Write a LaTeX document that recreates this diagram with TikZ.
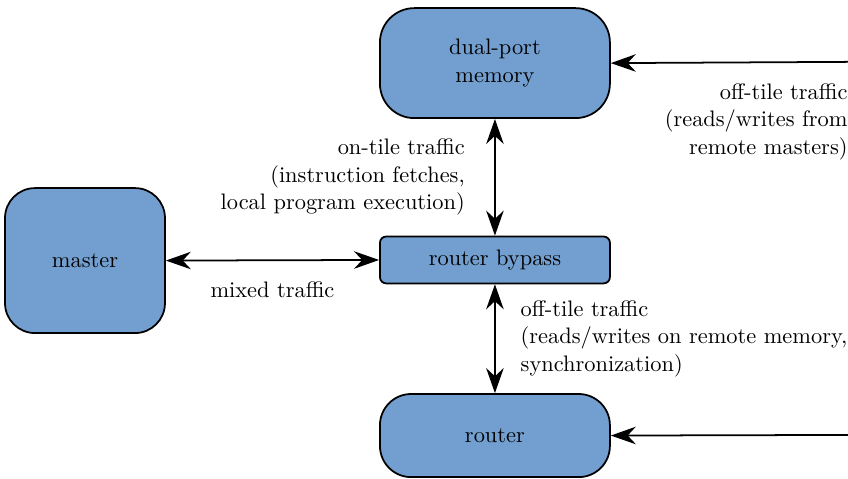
\documentclass[tikz,border=0pt]{standalone}
\usetikzlibrary{arrows.meta}
\definecolor{boxblue}{HTML}{729FCF}
\begin{document}
\begin{tikzpicture}[font=\fontsize{10.2}{12.5}\selectfont,
    box/.style={draw,thick,fill=boxblue,align=center,minimum width=3.68cm,rounded corners=0.55cm},
    link/.style={thick,{Stealth[length=4mm,width=2.8mm,inset=1.3mm]}-{Stealth[length=4mm,width=2.8mm,inset=1.3mm]}},
    feed/.style={thick,-{Stealth[length=4mm,width=2.8mm,inset=1.3mm]}}]
    \useasboundingbox (0,0) rectangle (13.57,7.65);
    % blocks
    \node[box,minimum height=1.76cm] (mem) at (7.92,6.64) {dual-port\\memory};
    \node[box,minimum width=2.56cm,minimum height=2.32cm,rounded corners=0.48cm] (master) at (1.36,3.48) {master};
    \node[box,minimum height=0.75cm,rounded corners=0.1cm] (bypass) at (7.92,3.49) {router bypass};
    \node[box,minimum height=1.33cm,rounded corners=0.5cm] (router) at (7.92,0.68) {router};
    \coordinate (memin) at (13.57,6.66);
    \coordinate (routerin) at (13.57,0.69);
    % traffic
    \draw[link] (mem) -- (bypass) node[midway,left=10pt,align=right] {on-tile traffic\\(instruction fetches,\\local program execution)};
    \draw[link] (master.east) -- (bypass.west) node[midway,below=6pt] {mixed traffic};
    \draw[link] (bypass) -- (router) node[midway,right=8pt,align=left] {off-tile traffic\\(reads/writes on remote memory,\\synchronization)};
    \draw[feed] (memin) -- (mem.east);
    \draw[feed] (routerin) -- (router.east);
    \node[anchor=north east,align=right,inner sep=0pt] (memlabel) at (13.57,6.32) {off-tile traffic\\(reads/writes from\\remote masters)};
\end{tikzpicture}
\end{document}
